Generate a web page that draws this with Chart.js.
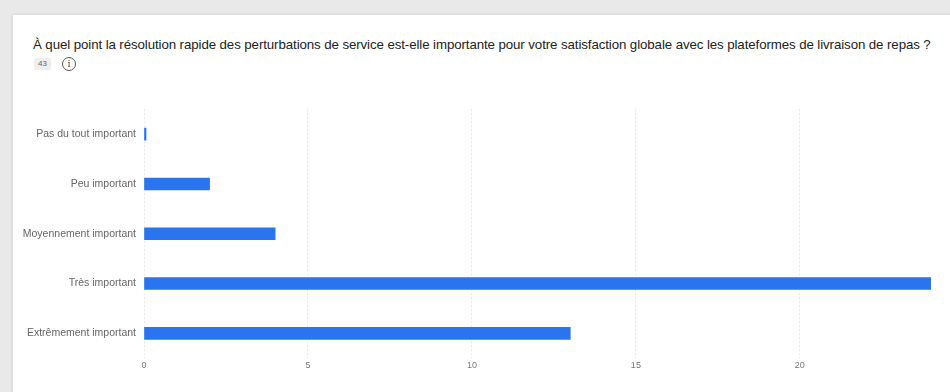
<!DOCTYPE html>
<html lang="fr">
<head>
<meta charset="utf-8">
<script src="https://cdn.jsdelivr.net/npm/chart.js@4"></script>
<style>
    body { margin: 0; width: 950px; height: 392px; background: #e9e9e9; overflow: hidden; font-family: "Liberation Sans", Arial, sans-serif; }
    .card { position: absolute; left: 13px; top: 15px; width: 940px; height: 380px; background: #fff; box-shadow: 0 0 3px rgba(0,0,0,0.15); }
    .title { position: absolute; left: 33px; top: 37px; font-size: 13.3px; color: #222; white-space: nowrap; letter-spacing: -0.1px; }
    .badge { position: absolute; left: 34px; top: 58px; padding: 0 4px; height: 12px; line-height: 12px; font-size: 8px; color: #666; background: #eee; border-radius: 2px; }
    .info { position: absolute; left: 62px; top: 57px; width: 12px; height: 12px; border: 1px solid #555; border-radius: 50%; font-size: 9px; line-height: 12px; text-align: center; color: #444; font-family: "DejaVu Serif", serif; }
    .chart-box { position: absolute; left: 0; top: 95px; width: 950px; height: 278px; }
</style>
</head>
<body>
<div class="card"></div>
<div class="title">À quel point la résolution rapide des perturbations de service est-elle importante pour votre satisfaction globale avec les plateformes de livraison de repas ?</div>
<div class="badge">43</div>
<div class="info">i</div>
<div class="chart-box"><canvas id="answersChart"></canvas></div>
<script>
const categories = ["Pas du tout important", "Peu important", "Moyennement important", "Très important", "Extrêmement important"];
const responses = [0, 2, 4, 24, 13];
const xTicks = [0, 5, 10, 15, 20];

document.addEventListener('DOMContentLoaded', function() {
    const ctx = document.getElementById('answersChart').getContext('2d');
    new Chart(ctx, {
        type: 'bar',
        data: {
            labels: categories,
            datasets: [{
                label: 'Réponses',
                data: responses,
                backgroundColor: '#2a75ef',
                borderWidth: 0,
                barThickness: 12,
                minBarLength: 2
            }]
        },
        options: {
            indexAxis: 'y',
            responsive: true,
            maintainAspectRatio: false,
            animation: false,
            layout: { padding: { top: 4, right: 19, left: 0, bottom: 0 } },
            plugins: {
                legend: { display: false },
                tooltip: { enabled: false }
            },
            scales: {
                x: {
                    min: 0,
                    max: 24,
                    afterBuildTicks: function(scale) {
                        scale.ticks = xTicks.map(v => ({ value: v }));
                    },
                    grid: {
                        color: '#e8e8e8',
                        drawTicks: false
                    },
                    // dotted vertical grid lines
                    border: { display: false, dash: [2, 2] },
                    ticks: {
                        padding: 2,
                        color: '#777',
                        font: { family: 'Liberation Sans', size: 9 }
                    }
                },
                y: {
                    afterFit: function(scale) { scale.width = 144; },
                    grid: { display: false, drawTicks: false },
                    border: { display: false },
                    ticks: {
                        padding: 8,
                        color: '#666',
                        font: { family: 'Liberation Sans', size: 10.5 }
                    }
                }
            }
        }
    });
});
</script>
</body>
</html>
